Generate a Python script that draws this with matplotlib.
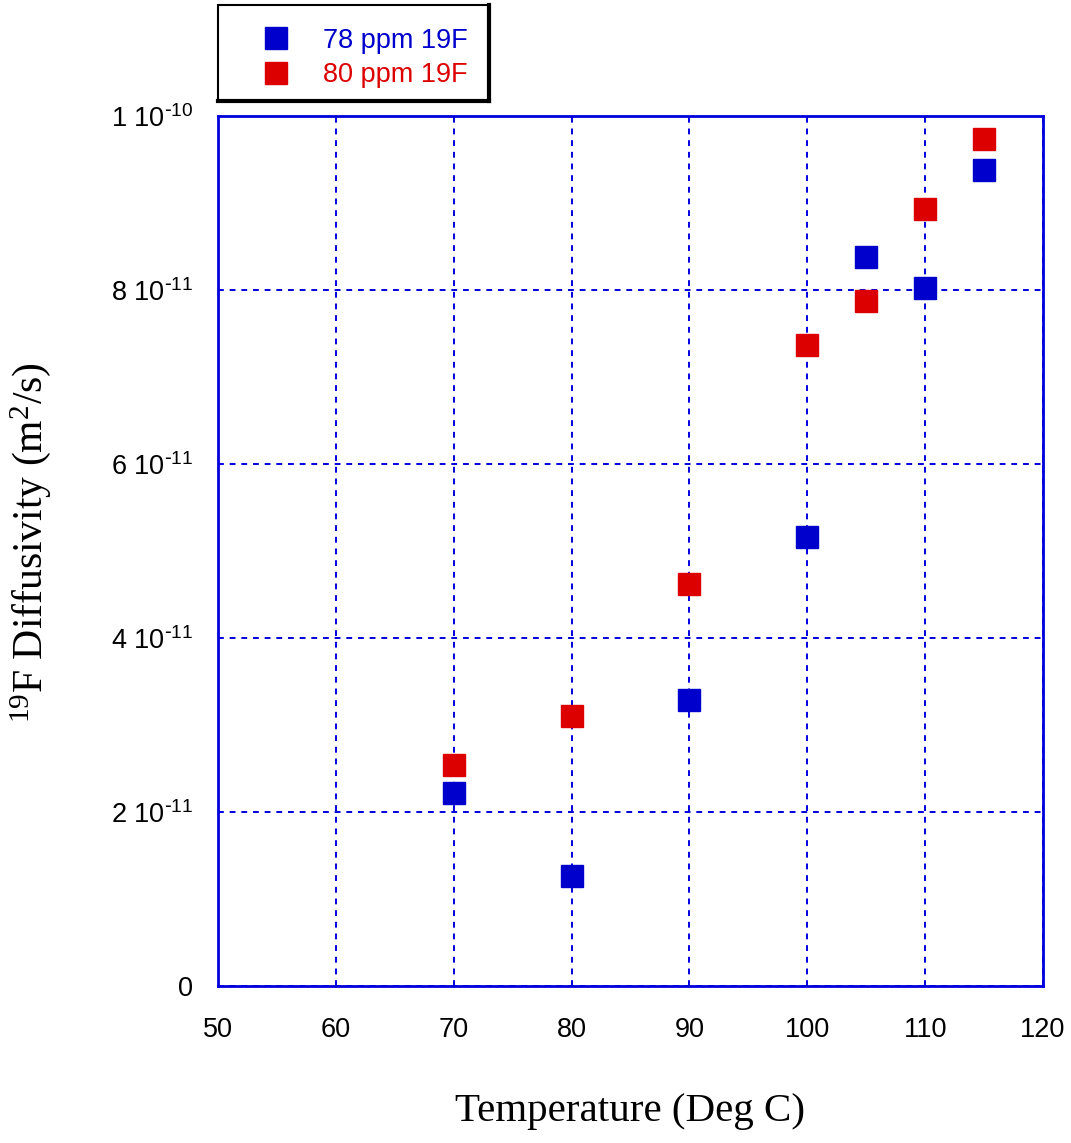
import matplotlib
matplotlib.use("Agg")
import matplotlib.pyplot as plt
from matplotlib.patches import Rectangle
from matplotlib.lines import Line2D
from matplotlib.ticker import FixedLocator, FixedFormatter

temps = [70, 80, 90, 100, 105, 110, 115]
d78 = [2.22e-11, 1.26e-11, 3.29e-11, 5.16e-11, 8.38e-11, 8.02e-11, 9.38e-11]
d80 = [2.54e-11, 3.10e-11, 4.62e-11, 7.37e-11, 7.87e-11, 8.93e-11, 9.74e-11]
series_labels = ["78 ppm 19F", "80 ppm 19F"]
xticks = [50, 60, 70, 80, 90, 100, 110, 120]
yticks = [0, 2e-11, 4e-11, 6e-11, 8e-11, 1e-10]
ytick_labels = ["0", "2 10$^{\\text{-}11}$", "4 10$^{\\text{-}11}$", "6 10$^{\\text{-}11}$",
                "8 10$^{\\text{-}11}$", "1 10$^{\\text{-}10}$"]

plt.rcParams['mathtext.default'] = 'regular'
plt.rcParams['font.family'] = ['Liberation Sans', 'DejaVu Sans']

blue = '#0000cc'
red = '#dd0000'
gridblue = '#0000dd'

fig = plt.figure(figsize=(10.71, 11.43), dpi=100)
ax = fig.add_axes([0.2035, 0.1374, 0.7704, 0.7611])

ax.plot(temps, d78, linestyle='none', marker='s', markersize=15.5, color=blue,
        markeredgecolor=blue, label=series_labels[0], zorder=3)
ax.plot(temps, d80, linestyle='none', marker='s', markersize=15.5, color=red,
        markeredgecolor=red, label=series_labels[1], zorder=3)

ax.set_xlim(50, 120)
ax.set_ylim(0, 1e-10)
ax.xaxis.set_major_locator(FixedLocator(xticks))
ax.yaxis.set_major_locator(FixedLocator(yticks))
ax.yaxis.set_major_formatter(FixedFormatter(ytick_labels))
ax.tick_params(axis='both', length=0, labelsize=19.5, colors='black')
ax.tick_params(axis='x', pad=22)
ax.tick_params(axis='y', pad=18)

ax.grid(True, color=gridblue, linestyle=(0, (3, 3)), linewidth=1.4)
for s in ax.spines.values():
    s.set_color(gridblue)
    s.set_linewidth(2)

ax.set_xlabel("Temperature (Deg C)", family='Liberation Serif', fontsize=29.5, labelpad=36)
ax.set_ylabel("$^{19}$F Diffusivity (m$^{2}$/s)", family='Liberation Serif', fontsize=30)
ax.yaxis.set_label_coords(-0.2, 0.51)

# legend box
W, H = 1071, 1143
x0, x1 = 218 / W, 489 / W
y0, y1 = 1 - 101 / H, 1 - 5 / H
fig.add_artist(Rectangle((x0, y0), x1 - x0, y1 - y0, transform=fig.transFigure,
                         facecolor='white', edgecolor='black', linewidth=1.5, zorder=-2))
fig.add_artist(Line2D([x1, x1], [y0, y1], transform=fig.transFigure, color='black',
                      linewidth=3, zorder=-1))
fig.add_artist(Line2D([x0, x1], [y0, y0], transform=fig.transFigure, color='black',
                      linewidth=3, zorder=-1))

leg = ax.legend(loc='center left', bbox_to_anchor=(249 / W, 1 - 58 / H),
                bbox_transform=fig.transFigure, frameon=False, fontsize=19.5,
                handletextpad=1.24, labelspacing=0.3, handlelength=1.0,
                markerscale=1.0, borderpad=0)
for t, c in zip(leg.get_texts(), [blue, red]):
    t.set_color(c)

fig.savefig("out.png", dpi=100)
